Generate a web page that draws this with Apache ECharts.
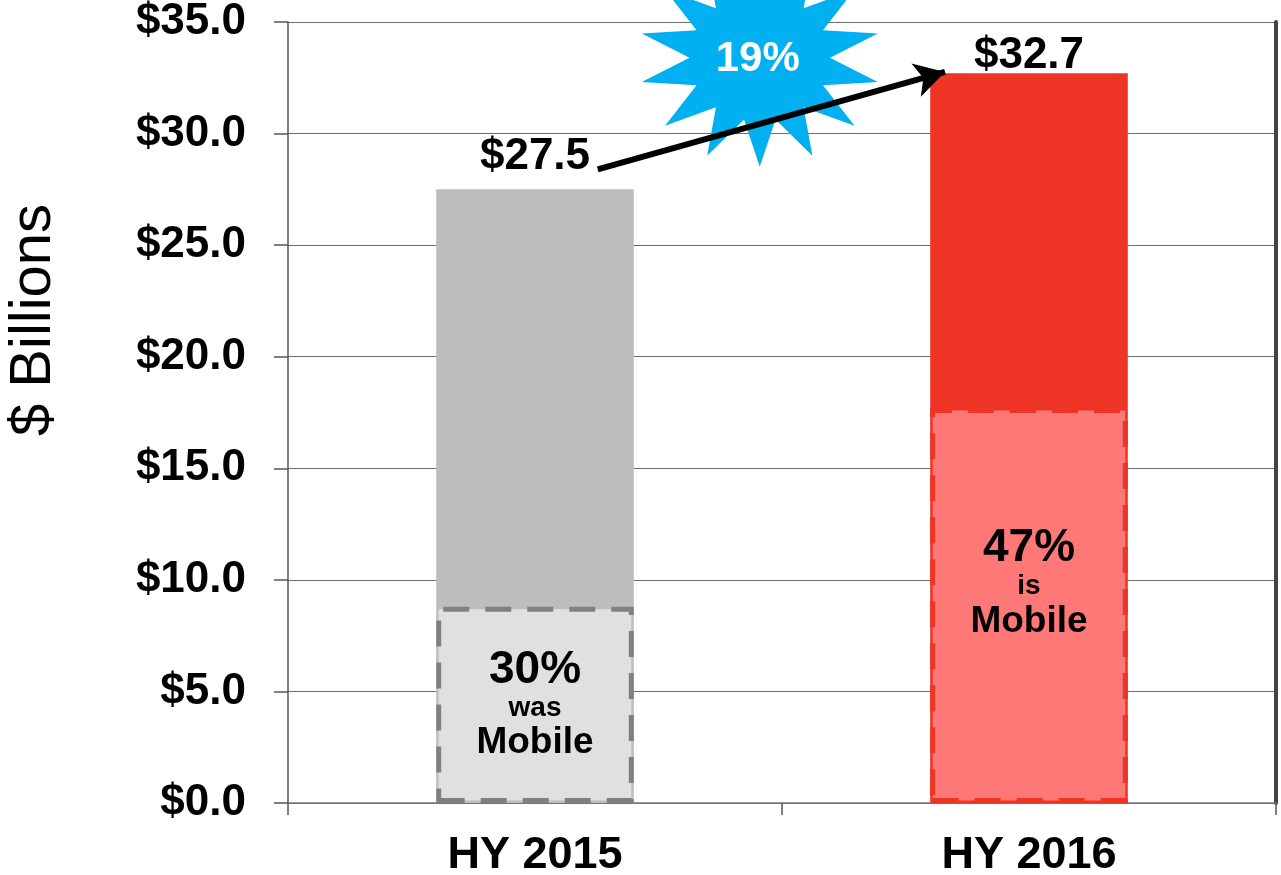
<!DOCTYPE html>
<html><head><meta charset="utf-8">
<script src="https://cdn.jsdelivr.net/npm/echarts@6/dist/echarts.min.js"></script>
<style>html,body{margin:0;padding:0;background:#fff}#c{width:1281px;height:875px}</style>
</head><body><div id="c"></div>
<script>
const categories = ['HY 2015', 'HY 2016'];
const totalValues = [27.5, 32.7];
const mobileValues = [8.8, 17.7];
const mobileShare = ['30%', '47%'];
const mobileVerb = ['was', 'is'];
const growthLabel = '19%';
const growthArrowFrom = [0.127, 28.4];
const growthArrowTo = [0.83, 32.76];
const growthStarAt = [0.455, 33.4];
const yMin = 0, yMax = 35, yStep = 5;

const totalColors = ['#bdbdbd', '#ee3424'];
const mobileFill = ['#e0e0e0', '#ff7878'];
const mobileBorder = ['#808080', '#ee3424'];
const FONT = '"Liberation Sans", Arial, Helvetica, sans-serif';

const starPath = 'path://M50,0 L56.5,21.7 L71.7,5 L68.1,27.3 L89.1,18.8 L76.1,37.4 L98.7,38.9 L79,50 L98.7,61.1 L76.1,62.6 L89.1,81.2 L68.1,72.7 L71.7,95 L56.5,78.3 L50,100 L43.5,78.3 L28.3,95 L31.9,72.7 L10.9,81.2 L23.9,62.6 L1.3,61.1 L21,50 L1.3,38.9 L23.9,37.4 L10.9,18.8 L31.9,27.3 L28.3,5 L43.5,21.7 Z';

const chart = echarts.init(document.getElementById('c'), null, {renderer: 'canvas'});
chart.setOption({
  animation: false,
  backgroundColor: '#ffffff',
  grid: {left: 288, right: 5, top: 22, bottom: 72, containLabel: false, outerBoundsMode: 'none'},
  xAxis: [{
    type: 'category', data: categories, boundaryGap: true,
    axisLine: {show: true, onZero: false, lineStyle: {color: '#777', width: 1.5}},
    axisTick: {show: true, length: 12, lineStyle: {color: '#555', width: 1.5}},
    axisLabel: {fontFamily: FONT, fontWeight: 'bold', fontSize: 45, color: '#000', margin: 30},
    splitLine: {show: false}
  }, {
    type: 'value', min: -0.5, max: 1.5, show: false,
    axisLine: {show: false, onZero: false}, axisTick: {show: false},
    axisLabel: {show: false}, splitLine: {show: false}
  }],
  yAxis: [{
    type: 'value', min: yMin, max: yMax, interval: yStep,
    axisLine: {show: true, onZero: false, lineStyle: {color: '#555', width: 1.5}},
    axisTick: {show: true, inside: false, length: 14, lineStyle: {color: '#555', width: 1.5}},
    axisLabel: {fontFamily: FONT, fontWeight: 'bold', fontSize: 44, color: '#000', margin: 42,
      formatter: v => '$' + v.toFixed(1)},
    splitLine: {show: true, lineStyle: {color: '#6e6e6e', width: 1.2}}
  }, {
    type: 'value', position: 'right', min: yMin, max: yMax, interval: yStep,
    axisLine: {show: true, onZero: false, lineStyle: {color: '#444', width: 4}},
    axisTick: {show: false}, axisLabel: {show: false}, splitLine: {show: false}
  }],
  graphic: [{
    type: 'text', x: 34, y: 320, rotation: Math.PI / 2,
    style: {text: '$ Billions', font: '58px ' + FONT, fill: '#000', align: 'center', verticalAlign: 'middle'}
  }],
  series: [{
    type: 'bar', name: 'Total', barWidth: '40%', barGap: '-100%', z: 2,
    data: totalValues.map((v, i) => ({
      value: v,
      itemStyle: {color: totalColors[i]},
      label: {show: true, position: 'top', distance: i === 0 ? 10 : 0, offset: [0, i === 0 ? 0 : 5],
        fontFamily: FONT, fontWeight: 'bold', fontSize: 44, color: '#000',
        formatter: '$' + v.toFixed(1)}
    }))
  }, {
    type: 'bar', name: 'Mobile', barWidth: '40%', barGap: '-100%', z: 3,
    data: mobileValues.map((v, i) => ({
      value: v,
      itemStyle: {color: mobileFill[i], borderColor: mobileBorder[i], borderWidth: 5,
        borderType: [26, 16]},
      label: {show: true, position: 'inside', offset: [0, i === 0 ? 0 : -22],
        formatter: '{a|' + mobileShare[i] + '}\n{b|' + mobileVerb[i] + '}\n{c|Mobile}',
        rich: {
          a: {fontFamily: FONT, fontWeight: 'bold', fontSize: 46, color: '#000', lineHeight: 44},
          b: {fontFamily: FONT, fontWeight: 'bold', fontSize: 28, color: '#000', lineHeight: 32},
          c: {fontFamily: FONT, fontWeight: 'bold', fontSize: 37, color: '#000', lineHeight: 38}
        }}
    }))
  }, {
    type: 'scatter', name: 'Growth', xAxisIndex: 1, yAxisIndex: 0, z: 4,
    symbol: starPath, symbolSize: [236, 218],
    itemStyle: {color: '#00b0f0', opacity: 1},
    label: {show: true, position: 'inside', formatter: growthLabel, offset: [-2, 2],
      fontFamily: FONT, fontWeight: 'bold', fontSize: 42, color: '#fff'},
    data: [growthStarAt],
    markLine: {
      silent: true, symbol: ['none', 'arrow'], symbolSize: [26, 30], z: 6,
      lineStyle: {color: '#000', width: 6, type: 'solid'},
      label: {show: false},
      data: [[{coord: growthArrowFrom}, {coord: growthArrowTo}]]
    }
  }]
});
</script></body></html>
